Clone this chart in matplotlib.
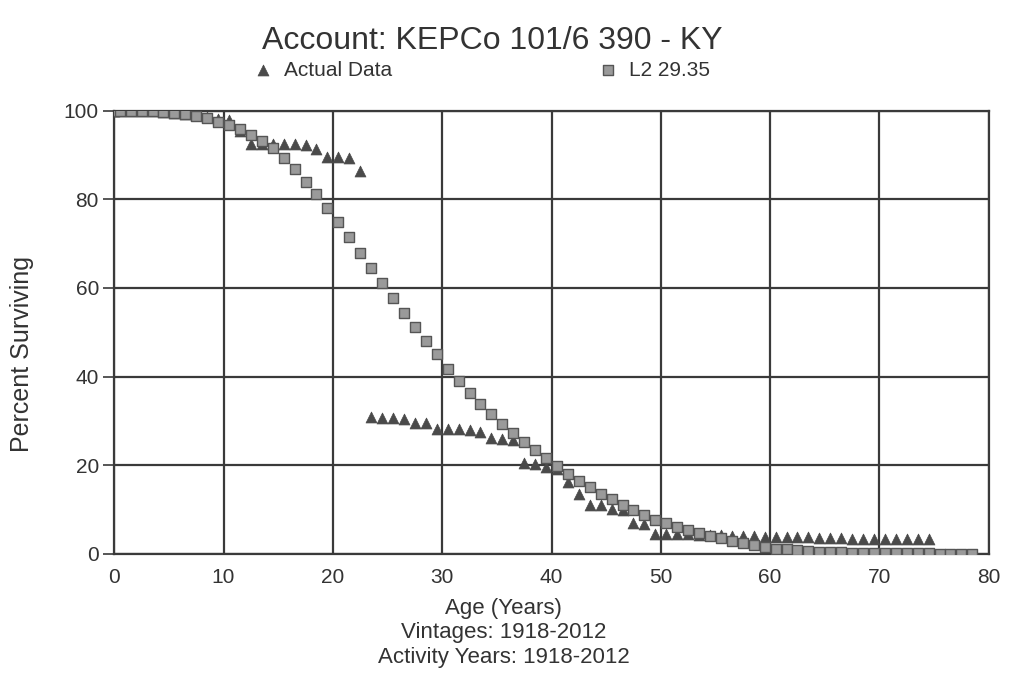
import matplotlib
matplotlib.use("Agg")
import matplotlib.pyplot as plt

plt.rcParams['font.family'] = ['Liberation Sans', 'DejaVu Sans']

# ages (years): 0, then every half year
l2_ages = [0] + [a + 0.5 for a in range(79)]
l2_pct = [100, 100, 100, 100, 99.9, 99.8, 99.6, 99.3, 98.9, 98.3,
          97.5, 96.8, 95.9, 94.6, 93.1, 91.5, 89.4, 86.8, 84.0, 81.2,
          78.0, 74.8, 71.4, 68.0, 64.5, 61.2, 57.8, 54.4, 51.1, 48.0,
          45.0, 41.8, 38.9, 36.3, 33.8, 31.5, 29.4, 27.2, 25.3, 23.5,
          21.6, 19.8, 18.0, 16.5, 15.0, 13.5, 12.3, 11.0, 9.8, 8.7,
          7.7, 6.9, 6.0, 5.3, 4.8, 4.1, 3.5, 3.0, 2.5, 2.0,
          1.5, 1.2, 1.0, 0.8, 0.6, 0.5, 0.4, 0.35, 0.3, 0.25,
          0.2, 0.18, 0.15, 0.12, 0.1, 0.08, 0.06, 0.05, 0.04, 0.03]

actual_ages = l2_ages[:76]
actual_pct = [100, 100, 100, 100, 99.9, 99.8, 99.6, 99.3, 99.0, 98.6,
              98.2, 97.9, 95.5, 92.6, 92.5, 92.4, 92.4, 92.4, 92.3, 91.3,
              89.5, 89.5, 89.4, 86.4, 30.8, 30.7, 30.6, 30.5, 29.6, 29.5,
              28.2, 28.1, 28.1, 28.0, 27.6, 26.2, 25.9, 25.7, 20.5, 20.2,
              19.6, 19.2, 16.2, 13.6, 11.1, 11.0, 10.1, 10.0, 6.9, 6.8,
              4.5, 4.5, 4.4, 4.4, 4.3, 4.3, 4.2, 4.1, 4.1, 4.0,
              3.9, 3.9, 3.8, 3.7, 3.7, 3.6, 3.5, 3.5, 3.4, 3.4,
              3.4, 3.3, 3.3, 3.3, 3.3, 3.3]

x_ticks = [0, 10, 20, 30, 40, 50, 60, 70, 80]
y_ticks = [0, 20, 40, 60, 80, 100]

fig = plt.figure(figsize=(10.11, 6.88), dpi=100)
ax = fig.add_axes([0.113, 0.195, 0.865, 0.644])

grid_color = '#3a3a3a'
text_color = '#333333'
ax.scatter(actual_ages, actual_pct, marker='^', s=62, color='#4a4a4a',
           edgecolors='#4a4a4a', linewidths=0.5, zorder=3, label='Actual Data')
ax.scatter(l2_ages, l2_pct, marker='s', s=42, color='#9a9a9a',
           edgecolors='#555555', linewidths=1.0, zorder=4, label='L2 29.35')

ax.set_xlim(0, 80)
ax.set_ylim(0, 100)
ax.set_xticks(x_ticks)
ax.set_yticks(y_ticks)
ax.grid(True, color=grid_color, linewidth=1.6)
ax.set_axisbelow(True)
for sp in ax.spines.values():
    sp.set_color(grid_color)
    sp.set_linewidth(1.6)
ax.tick_params(axis='y', length=8, width=1.2, color=grid_color, labelsize=15,
               labelcolor=text_color, pad=3)
ax.tick_params(axis='x', length=0, labelsize=15, labelcolor=text_color, pad=10)

ax.set_ylabel('Percent Surviving', fontsize=18, color=text_color)
ax.yaxis.set_label_coords(-0.092, 0.45)

fig.text(0.487, 0.94, 'Account: KEPCo 101/6 390 - KY', ha='center', va='center',
         fontsize=23, color=text_color)
fig.text(0.498, 0.08, 'Age (Years)\nVintages: 1918-2012\nActivity Years: 1918-2012',
         ha='center', va='center', fontsize=16, color=text_color, linespacing=1.2)

fig.legend(loc='center', bbox_to_anchor=(0.476, 0.898), ncol=2, frameon=False,
           fontsize=15, columnspacing=9.9, handlelength=1.0, handletextpad=0.5,
           markerscale=1.0, labelcolor=text_color)

fig.savefig('out.png', dpi=100, facecolor='white')
